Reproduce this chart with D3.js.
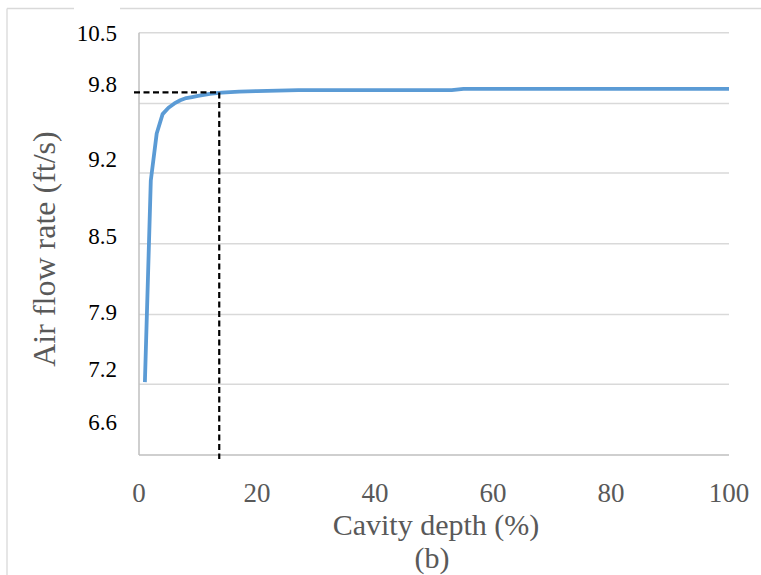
<!DOCTYPE html>
<html>
<head>
<meta charset="utf-8">
<script src="https://cdn.jsdelivr.net/npm/d3@7"></script>
<style>
  body { margin: 0; background: #fff; }
</style>
</head>
<body>
<script>
const w = 761; // width
const h = 575; // height
const font = "'Liberation Serif', 'Times New Roman', Times, serif";

// cavity depth (%) and air flow rate (ft/s)
const depth = [1, 2, 3, 4, 5, 6, 7, 8, 9, 10, 12, 14, 17, 20, 27, 40, 53, 55, 70, 85, 100];
const flow = [7.24, 9.12, 9.56, 9.74, 9.80, 9.84, 9.87, 9.89, 9.90, 9.91, 9.93, 9.94, 9.95, 9.955, 9.965, 9.965, 9.965, 9.975, 9.975, 9.975, 9.975];

// gridlines (2.0 .. 3.2 m/s in ft/s) and the printed labels
const yGrid = [6.56, 7.22, 7.87, 8.53, 9.19, 9.84, 10.50];
const yLabels = ["6.6", "7.2", "7.9", "8.5", "9.2", "9.8", "10.5"];
// where each printed label sits on the value axis (they are not on the gridlines)
const yLabelAt = [6.86, 7.36, 7.89, 8.60, 9.32, 10.02, 10.49];

const xTicks = [0, 20, 40, 60, 80, 100];

// marked point (dashed guide)
const markX = 13.6;
const markY = 9.943;

let svg = d3.select("body")
    .append("svg")
    .attr("width", w)
    .attr("height", h)
    .style("font-family", font);

// outer frame (top and left edges, gap on the top)
const frame = "#d9d9d9";
svg.append("line").attr("x1", 7).attr("y1", 8.5).attr("x2", 74).attr("y2", 8.5)
    .attr("stroke", frame).attr("stroke-width", 1.3);
svg.append("line").attr("x1", 120).attr("y1", 8.5).attr("x2", w).attr("y2", 8.5)
    .attr("stroke", frame).attr("stroke-width", 1.3);
svg.append("line").attr("x1", 7).attr("y1", 8.5).attr("x2", 7).attr("y2", h)
    .attr("stroke", frame).attr("stroke-width", 1.3);

// scales
let x = d3.scaleLinear().domain([0, 100]).range([139, 729]);
let y = d3.scaleLinear().domain([yGrid[0], yGrid[yGrid.length - 1]]).range([455, 32.7]);

// gridlines
svg.append("g")
    .selectAll("line")
    .data(yGrid.slice(1))
    .enter()
    .append("line")
    .attr("x1", x(0))
    .attr("x2", x(100))
    .attr("y1", d => y(d))
    .attr("y2", d => y(d))
    .attr("stroke", "#d9d9d9")
    .attr("stroke-width", 1.5);

// axis lines
svg.append("line")
    .attr("x1", x(0)).attr("x2", x(0))
    .attr("y1", y(yGrid[0])).attr("y2", y(yGrid[yGrid.length - 1]))
    .attr("stroke", "#bfbfbf").attr("stroke-width", 1.5);
svg.append("line")
    .attr("x1", x(0)).attr("x2", x(100))
    .attr("y1", y(yGrid[0])).attr("y2", y(yGrid[0]))
    .attr("stroke", "#bfbfbf").attr("stroke-width", 1.5);

// y labels
svg.append("g")
    .selectAll("text")
    .data(yLabels)
    .enter()
    .append("text")
    .attr("x", 117)
    .attr("y", (d, i) => y(yLabelAt[i]))
    .attr("dy", "0.32em")
    .attr("text-anchor", "end")
    .attr("font-family", font)
    .attr("font-size", 23)
    .attr("fill", "#000")
    .text(d => d);

// x labels
svg.append("g")
    .selectAll("text")
    .data(xTicks)
    .enter()
    .append("text")
    .attr("x", d => x(d))
    .attr("y", 502)
    .attr("text-anchor", "middle")
    .attr("font-family", font)
    .attr("font-size", 27)
    .attr("fill", "#595959")
    .text(d => d);

// data line
const rows = depth.map((d, i) => ({ depth: d, flow: flow[i] }));
svg.append("path")
    .datum(rows)
    .attr("fill", "none")
    .attr("stroke", "#5b9bd5")
    .attr("stroke-width", 3.8)
    .attr("stroke-linejoin", "round")
    .attr("d", d3.line().x(d => x(d.depth)).y(d => y(d.flow)));

// dashed guides
svg.append("line")
    .attr("x1", x(0) - 5).attr("x2", x(markX))
    .attr("y1", y(markY)).attr("y2", y(markY))
    .attr("stroke", "#000").attr("stroke-width", 2.2)
    .attr("stroke-dasharray", "6,3.5");
svg.append("line")
    .attr("x1", x(markX)).attr("x2", x(markX))
    .attr("y1", y(markY)).attr("y2", y(yGrid[0]) + 4)
    .attr("stroke", "#000").attr("stroke-width", 2.2)
    .attr("stroke-dasharray", "6,3.5");

// axis titles
svg.append("text")
    .attr("text-anchor", "middle")
    .attr("x", 436)
    .attr("y", 535)
    .attr("font-family", font)
    .attr("font-size", 30)
    .attr("fill", "#595959")
    .text("Cavity depth (%)");

svg.append("text")
    .attr("text-anchor", "middle")
    .attr("x", 432)
    .attr("y", 568)
    .attr("font-family", font)
    .attr("font-size", 30)
    .attr("fill", "#595959")
    .text("(b)");

svg.append("text")
    .attr("text-anchor", "middle")
    .attr("transform", "rotate(-90)")
    .attr("x", -249)
    .attr("y", 55)
    .attr("font-family", font)
    .attr("font-size", 32)
    .attr("fill", "#595959")
    .text("Air flow rate (ft/s)");
</script>
</body>
</html>
